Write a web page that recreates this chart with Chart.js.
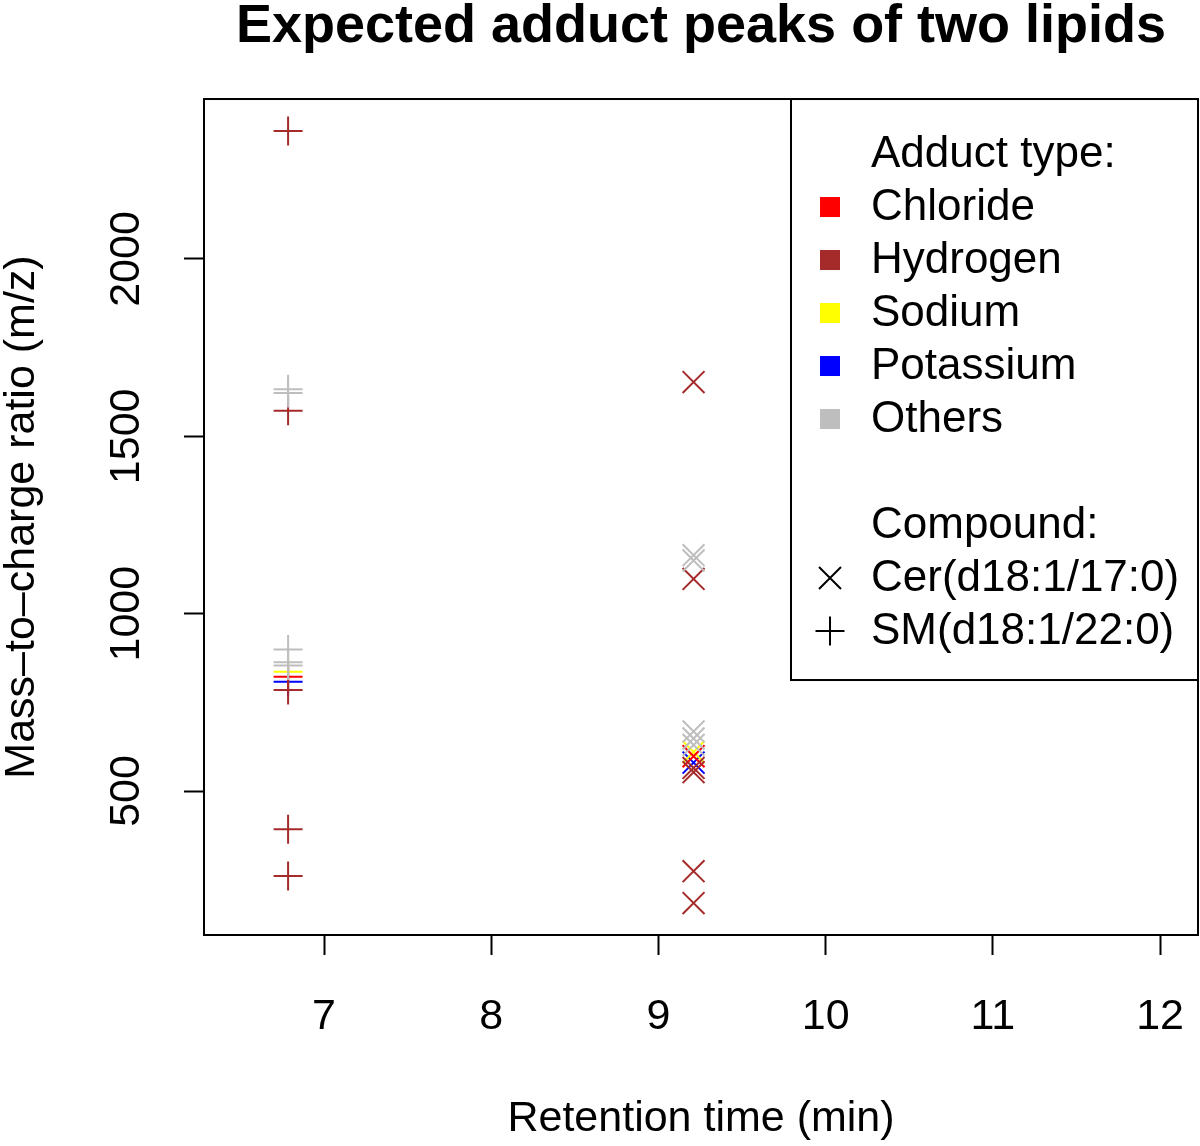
<!DOCTYPE html>
<html>
<head>
<meta charset="utf-8">
<script src="https://cdn.jsdelivr.net/npm/chart.js@4.4.0/dist/chart.umd.min.js"></script>
<style>
  body { margin: 0; background: #fff; }
  #wrap { width: 1200px; height: 1146px; }
</style>
</head>
<body>
<div id="wrap"><canvas id="myChart" width="1200" height="1146"></canvas></div>
<script>
// Data
const compounds = ["Cer(d18:1/17:0)", "SM(d18:1/22:0)"];
const compoundRt = [9.21, 6.785];
const compoundStyle = ["crossRot", "cross"];

const adducts = ["Chloride", "Hydrogen", "Sodium", "Potassium", "Others"];
const adductColors = ["#FF0000", "#A52A2A", "#FFFF00", "#0000FF", "#BEBEBE"];

// m/z values per compound, same order as adducts
const cerMz = [
  [598],
  [1653, 1098, 565, 553, 274, 184],
  [610],
  [580],
  [1165, 1150, 668, 648, 630],
];
const smMz = [
  [822],
  [2361, 1572, 785, 392, 260],
  [836],
  [808],
  [1633, 1622, 899, 863, 854],
];

const xTicks = [7, 8, 9, 10, 11, 12];
const yTicks = [500, 1000, 1500, 2000];

const font = "'Liberation Sans', Arial, Helvetica, sans-serif";
const drawOrder = [4, 1, 0, 2, 3]; // others first, coloured ones on top

// build datasets
const datasets = [];
[cerMz, smMz].forEach((series, c) => {
  drawOrder.forEach((a) => {
    datasets.push({
      label: compounds[c] + " " + adducts[a],
      data: series[a].map((v) => ({ x: compoundRt[c], y: v })),
      pointStyle: compoundStyle[c],
      pointRadius: c === 0 ? 15.5 : 14.5,
      pointHoverRadius: c === 0 ? 15.5 : 14.5,
      pointBorderColor: adductColors[a],
      pointBackgroundColor: "rgba(0,0,0,0)",
      pointBorderWidth: 2,
      showLine: false,
    });
  });
});

// box around plot + R style legend
const boxLegend = {
  id: "boxLegend",
  afterDraw(chart) {
    const ctx = chart.ctx;
    const area = chart.chartArea;
    ctx.save();
    ctx.strokeStyle = "#000";
    ctx.lineWidth = 2;
    ctx.strokeRect(area.left, area.top, area.right - area.left, area.bottom - area.top);

    // legend
    const w = 407, h = 581;
    const lx = area.right - w, ly = area.top;
    ctx.strokeRect(lx, ly, w, h);
    const row = 53;
    const symX = lx + 39;
    const txtX = lx + 80;
    ctx.fillStyle = "#000";
    ctx.font = "44px " + font;
    ctx.textBaseline = "middle";
    ctx.textAlign = "left";

    let y = ly + row + 3;
    ctx.fillText("Adduct type:", txtX, y);
    adducts.forEach((name, i) => {
      y += row;
      ctx.fillStyle = adductColors[i];
      ctx.fillRect(symX - 10, y - 11, 20, 20);
      ctx.fillStyle = "#000";
      ctx.fillText(name, txtX, y);
    });
    y += row * 2;
    ctx.fillText("Compound:", txtX, y);
    compounds.forEach((name, i) => {
      y += row;
      const r = compoundStyle[i] === "cross" ? 14.5 : 11;
      const sy = y - 1;
      ctx.beginPath();
      if (compoundStyle[i] === "cross") {
        ctx.moveTo(symX - r, sy); ctx.lineTo(symX + r, sy);
        ctx.moveTo(symX, sy - r); ctx.lineTo(symX, sy + r);
      } else {
        ctx.moveTo(symX - r, sy - r); ctx.lineTo(symX + r, sy + r);
        ctx.moveTo(symX - r, sy + r); ctx.lineTo(symX + r, sy - r);
      }
      ctx.lineWidth = 2;
      ctx.stroke();
      ctx.fillText(name, txtX, y);
    });
    ctx.restore();
  },
};

new Chart("myChart", {
  type: "scatter",
  data: { datasets: datasets },
  options: {
    responsive: false,
    animation: false,
    layout: { autoPadding: false, padding: { left: 0, right: 2, top: 0, bottom: 0 } },
    plugins: {
      legend: { display: false },
      tooltip: { enabled: false },
      title: {
        display: true,
        text: "Expected adduct peaks of two lipids",
        fullSize: false,
        color: "#000",
        font: { family: font, size: 54, weight: "bold", lineHeight: 0.88 },
        padding: { top: 3, bottom: 48.5 },
      },
    },
    scales: {
      x: {
        type: "linear",
        min: 6.282,
        max: 12.227,
        afterBuildTicks: (s) => { s.ticks = xTicks.map((v) => ({ value: v })); },
        afterFit: (s) => { s.height = 211; s.paddingLeft = 0; s.paddingRight = 0; },
        grid: { drawOnChartArea: false, drawTicks: true, tickLength: 20, tickColor: "#000", tickWidth: 2 },
        border: { display: false },
        ticks: { color: "#000", padding: 36, maxRotation: 0, font: { family: font, size: 43 } },
        title: {
          display: true,
          text: "Retention time (min)",
          color: "#000",
          font: { family: font, size: 43, lineHeight: 1.1 },
          padding: { top: 0, bottom: 3 },
        },
      },
      y: {
        type: "linear",
        min: 94,
        max: 2451,
        afterBuildTicks: (s) => { s.ticks = yTicks.map((v) => ({ value: v })); },
        afterFit: (s) => { s.width = 204; s.paddingTop = 0; s.paddingBottom = 0; },
        grid: { drawOnChartArea: false, drawTicks: true, tickLength: 20, tickColor: "#000", tickWidth: 2 },
        border: { display: false },
        ticks: {
          color: "#000",
          padding: 9,
          minRotation: 90,
          maxRotation: 90,
          crossAlign: "center",
          callback: (v) => String(v),
          font: { family: font, size: 43 },
        },
        title: {
          display: true,
          text: "Mass\u2013to\u2013charge ratio (m/z)",
          color: "#000",
          font: { family: font, size: 43, lineHeight: 1.02 },
          padding: 0,
        },
      },
    },
  },
  plugins: [boxLegend],
});
</script>
</body>
</html>
